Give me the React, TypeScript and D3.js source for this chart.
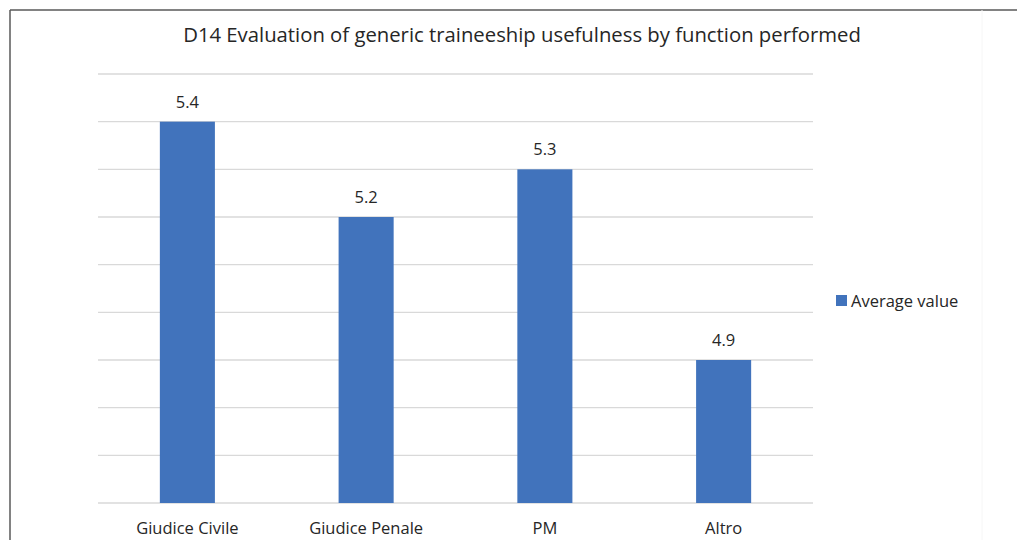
import React from "react";
import * as d3 from "d3";

const categories = ["Giudice Civile", "Giudice Penale", "PM", "Altro"];
const values = [5.4, 5.2, 5.3, 4.9];
const gridTicks = [4.6, 4.7, 4.8, 4.9, 5.0, 5.1, 5.2, 5.3, 5.4, 5.5];
const seriesName = "Average value";
const title = "D14 Evaluation of generic traineeship usefulness by function performed";

const W = 1017;
const H = 540;
const left = 98, right = 813, top = 74, bottom = 503;
const font = "'Open Sans', 'Noto Sans', sans-serif";
const barColor = "#4173BC";

export default function App() {
  const x = d3.scaleBand<string>().domain(categories).range([left, right]).paddingInner(0.692).paddingOuter(0.346);
  const y = d3.scaleLinear().domain([4.6, 5.5]).range([bottom, top]);
  return (
    <svg width={W} height={H} style={{ position: "absolute", left: 0, top: 0, background: "#fff" }} fontFamily={font}>
      <rect x={0} y={0} width={W} height={H} fill="#fff" />
      <line x1={10} y1={10} x2={W} y2={10} stroke="#595959" strokeWidth={1.5} />
      <line x1={10} y1={10} x2={10} y2={H} stroke="#595959" strokeWidth={1.5} />
      <line x1={982} y1={10} x2={982} y2={H} stroke="#f6f6f6" strokeWidth={1} />
      <text x={522} y={42} textAnchor="middle" fontSize={20.3} fill="#262626">{title}</text>
      {gridTicks.map((t) => (
        <line key={t} x1={left} x2={right} y1={y(t)} y2={y(t)} stroke="#d9d9d9" strokeWidth={1.3} />
      ))}
      {categories.map((c, i) => (
        <g key={c}>
          <rect x={x(c)} y={y(values[i])} width={x.bandwidth()} height={y(4.6) - y(values[i])} fill={barColor} />
          <text x={(x(c) as number) + x.bandwidth() / 2} y={y(values[i]) - 14} textAnchor="middle" fontSize={16.5} fill="#262626">
            {values[i].toFixed(1)}
          </text>
          <text x={(x(c) as number) + x.bandwidth() / 2} y={534} textAnchor="middle" fontSize={16.5} fill="#262626">
            {c}
          </text>
        </g>
      ))}
      <rect x={836} y={295} width={11} height={11} fill={barColor} />
      <text x={851} y={307} fontSize={16.5} fill="#262626">{seriesName}</text>
    </svg>
  );
}
